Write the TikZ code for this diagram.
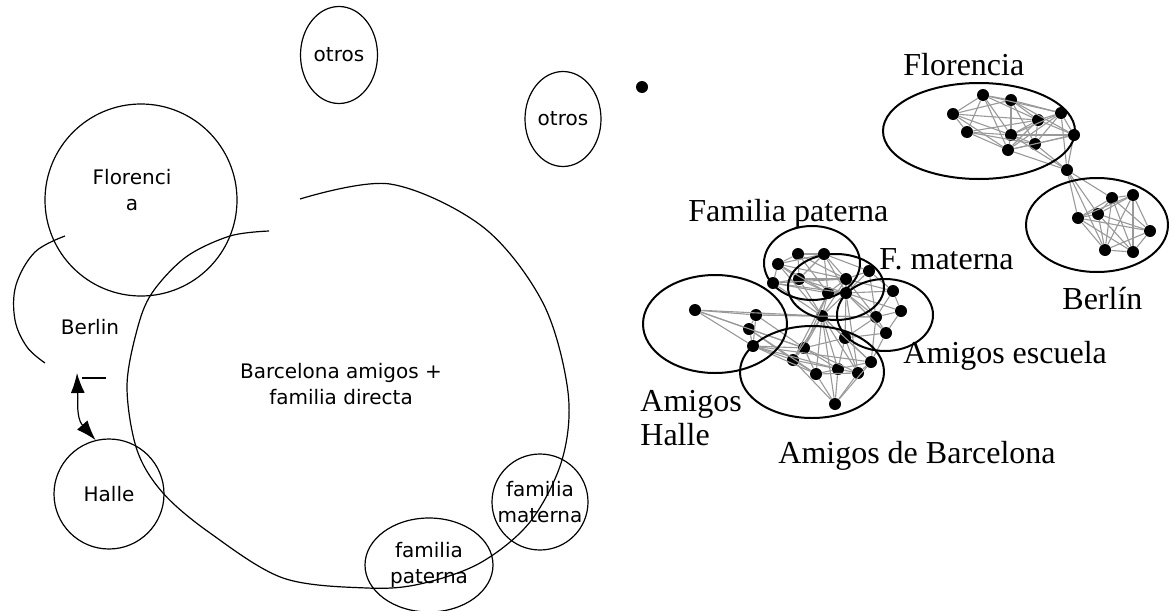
\documentclass[tikz,border=0pt]{standalone}
\usepackage{fontspec}
\setmainfont{Liberation Serif}
\newfontfamily\handfont{DejaVu Sans}
\usetikzlibrary{arrows.meta,shapes.geometric}

\begin{document}
\begin{tikzpicture}[
    % one unit = one pixel of the sketch, y going down
    x=0.5pt, y=-0.5pt,
    % hand drawn groups (left)
    burbuja/.style={circle, draw, line width=0.6pt, inner sep=0pt, minimum size=#1pt},
    ovalo/.style 2 args={ellipse, draw, line width=0.6pt, inner sep=0pt, minimum width=#1pt, minimum height=#2pt},
    mano/.style={font=\handfont\fontsize{10}{13}\selectfont, align=center},
    punta/.style={{Latex[length=10pt,width=7pt]}-{Latex[length=10pt,width=7pt]}},
    % network (right)
    grupo/.style 2 args={ellipse, draw, line width=1pt, inner sep=0pt, minimum width=#1pt, minimum height=#2pt},
    persona/.style={circle, fill, inner sep=0pt, minimum size=6pt},
    lazo/.style={draw=black!40, line width=0.55pt},
    etiqueta/.style={font=\fontsize{16}{17}\selectfont, inner sep=0pt, anchor=base west}
    ]
    \useasboundingbox (0,0) rectangle (1174,611);

    % left: circles drawn by hand
    \node[ovalo={38.5}{48.5}, mano] (otros1) at (339,55) {otros};
    \node[ovalo={38}{47.5}, mano] (otros2) at (563,119) {otros};
    \node[burbuja=96] (florencia) at (141,200) {};
    \node[mano] (florenciaTxt) at (132,190) {Florenci\\a};
    \node[mano] (berlinTxt) at (90,327) {Berlin};
    \node[mano] (barcelonaTxt) at (341,384) {Barcelona amigos +\\familia directa};
    \node[burbuja=55, mano] (halle) at (109,494) {Halle};
    \node[burbuja=48, mano] (materna) at (540,502) {familia\\materna};
    \node[ovalo={64}{47}, mano] (paterna) at (429,565) {familia\\paterna};

    % big open loop round Barcelona
    \draw[line width=0.6pt] plot[smooth, tension=0.55] coordinates {(300,199) (390,184) (483,227) (543,303) (568,392) (562,460) (530,522) (480,563) (420,584) (367,588) (283,578) (210,533) (163,493) (137,450) (127,387) (137,330) (152,293) (186,257) (230,236) (269,231)};
    % Berlin arc
    \draw[line width=0.6pt] plot[smooth, tension=0.6] coordinates {(65,236) (35,252) (16,285) (15,320) (27,347) (45,363)};
    \draw[line width=0.6pt] (82,378) -- (106,378);
    \coordinate (berlinPie) at (77,373);
    \draw[punta, line width=0.6pt] (berlinPie) .. controls (78,400) and (76,418) .. (halle.104);

    % right: network
    \foreach \n/\x/\y in {s/642/87,
        f1/983/95, f2/1011/100, f3/953/114, f4/1061/113, f5/1038/120,
        f6/967/132, f7/1011/135, f8/1074/135, f9/1035/144, f10/1008/150, b/1067/170,
        g1/1112/198, g2/1133/195, g3/1078/218, g4/1098/214, g5/1150/231, g6/1105/250, g7/1133/252,
        p1/798/254, p2/824/254, p3/778/264, p4/869/271, p5/799/279, p6/846/279, p7/773/283,
        p8/828/293, p9/846/293, p10/893/291, p11/901/311, p12/876/317, p13/822/316, p14/886/333,
        h1/695/310, h2/756/315, h3/749/329, h4/753/346,
        m1/845/338, m2/804/348, m3/793/360, m4/871/362, m5/838/369, m6/816/374, m7/858/373, m8/835/404}
        \node[persona] (\n) at (\x,\y) {};

    \foreach \a/\b in {f1/f2, f1/f3, f1/f6, f1/f7, f1/f10, f1/f5, f1/f4, f2/f4, f2/f5, f2/f7,
        f2/f9, f2/f8, f2/f3, f3/f6, f3/f7, f3/f5, f3/f10, f4/f5, f4/f8, f4/f7, f4/f9, f4/f10,
        f5/f7, f5/f8, f5/f9, f5/f10, f6/f7, f6/f10, f6/f9, f6/f5, f7/f9, f7/f10, f7/f8, f8/f9,
        f8/f10, f9/f10, b/f8, b/f4, b/f9, b/f7, b/f10,
        b/g3, b/g4, b/g1, b/g6,
        g1/g2, g1/g3, g1/g4, g1/g5, g1/g6, g1/g7, g2/g3, g2/g4, g2/g5, g2/g6, g2/g7, g3/g4,
        g3/g5, g3/g6, g3/g7, g4/g5, g4/g6, g4/g7, g5/g6, g5/g7, g6/g7}
        \draw[lazo] (\a) -- (\b);

    \foreach \a/\b in {p1/p2, p1/p3, p1/p5, p1/p6, p1/p8, p2/p3, p2/p4, p2/p5, p2/p6, p2/p8,
        p2/p9, p3/p5, p3/p7, p3/p6, p3/p8, p4/p6, p4/p9, p4/p10, p4/p12, p5/p6, p5/p7, p5/p8,
        p5/p9, p6/p8, p6/p9, p6/p10, p6/p12, p7/p8, p7/p6, p7/p9, p8/p9, p8/p13, p9/p10, p9/p11,
        p9/p12, p9/p14, p10/p11, p10/p12, p11/p12, p11/p14, p12/p14, p13/p9, p13/p5, p13/p7,
        p13/p3, p13/p6, p13/p12, p13/m1, p13/m2, p13/m3, p13/m5, p13/m6, p13/m7, p13/m4, p13/m8,
        h1/h2, h1/h3, h1/h4, h1/p13, h1/m2, h2/h3, h2/h4, h3/h4, h2/p13, h2/m2, h3/m2, h3/m3,
        h4/m2, h4/m3, h4/m5, h4/m6, h3/m6, h2/p12, h4/m4,
        m1/m2, m1/m4, m1/m5, m1/m7, m2/m3, m2/m5, m2/m6, m2/m7, m3/m6, m3/m5, m3/m8, m4/m5,
        m4/m7, m5/m6, m5/m7, m5/m8, m6/m7, m6/m8, m7/m8, m4/m8, m1/p12, m1/p9, m1/p14, m2/p8,
        m3/p8, m4/p14, m4/p12, m7/p9}
        \draw[lazo] (\a) -- (\b);

    % groups
    \node[grupo={96}{48}] (gFlorencia) at (979,131) {};
    \node[grupo={71}{47}] (gBerlin) at (1097,225) {};
    \node[grupo={48}{37}] (gPaterna) at (812,263) {};
    \node[grupo={48}{33}] (gMaterna) at (836,287) {};
    \node[grupo={48}{36}] (gEscuela) at (885,315) {};
    \node[grupo={72}{49}] (gHalle) at (715,324) {};
    \node[grupo={72}{46}] (gBarcelona) at (812,372) {};

    \node[etiqueta] (lFlorencia) at (903,75) {Florencia};
    \node[etiqueta] (lPaterna) at (688,221) {Familia paterna};
    \node[etiqueta] (lMaterna) at (879,269) {F. materna};
    \node[etiqueta] (lBerlin) at (1062,309) {Berlín};
    \node[etiqueta] (lEscuela) at (903,363) {Amigos escuela};
    \node[etiqueta] (lAmigos) at (640,411) {Amigos};
    \node[etiqueta] (lHalle) at (640,445) {Halle};
    \node[etiqueta] (lBarcelona) at (778,463) {Amigos de Barcelona};
\end{tikzpicture}
\end{document}
